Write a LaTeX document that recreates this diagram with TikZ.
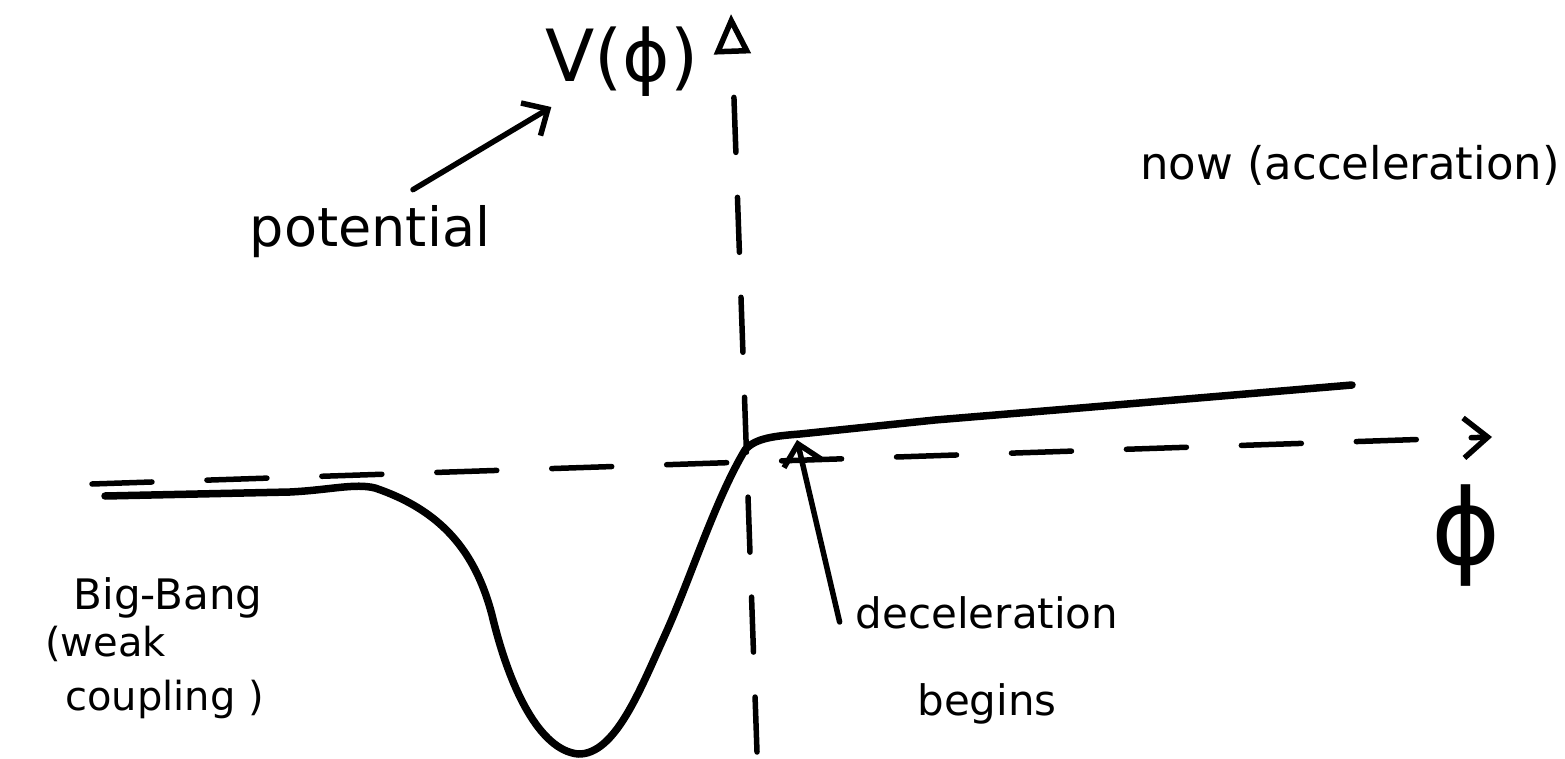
\documentclass[tikz,border=0pt]{standalone}
\usepackage{fontspec}
\setmainfont{DejaVu Sans}
\usetikzlibrary{arrows.meta}

\begin{document}
\begin{tikzpicture}[x=1pt,y=-1pt,
  curve/.style={line width=7.5pt,line cap=round,line join=round},
  axis/.style={line width=5.5pt,line cap=round},
  pointer/.style={line width=5.5pt,line cap=round,-{Straight Barb[length=20pt,width=38pt]}},
  hand/.style={inner sep=0pt,font=\fontsize{#1}{#1}\selectfont}]
\useasboundingbox (0,0) rectangle (1565,759);
\node[hand=72] (vlabel) at (622,62) {V(ϕ)};
\node[hand=54] (potential) at (370,232) {potential};
\node[hand=45,anchor=west] (now) at (1140,165) {now (acceleration)};
\node[hand=42] (bigbang) at (168,598) {Big-Bang};
\node[hand=40,align=left,anchor=north west] (weak) at (45,626) {(weak\\[14pt]\hspace*{0.5em}coupling )};
\node[hand=42,align=center] (decel) at (987,660) {deceleration\\[45pt]begins};
\node[hand=105] (phi) at (1466,536) {ϕ};
\coordinate (kink) at (797,440);
\draw[axis,dash pattern=on 55pt off 45pt,-{Triangle[open,length=40pt,width=36pt]}] (757,752) -- (731,14);
\draw[axis,dash pattern=on 60pt off 55pt,-{Straight Barb[length=24pt,width=40pt]}] (92,484) -- (1492,437);
\draw[curve] (105,496) -- (290,492) .. controls (330,490) and (355,483) .. (375,488)
  .. controls (440,510) and (475,550) .. (492,615) .. controls (510,690) and (540,750) .. (578,754)
  .. controls (615,755) and (640,690) .. (665,635) .. controls (690,580) and (715,500) .. (745,450)
  .. controls (755,438) and (775,436) .. (800,434) -- (935,420) -- (1080,408) -- (1352,385);
\draw[pointer] ([shift={(43pt,16pt)}]potential.north) -- ([shift={(6pt,-10pt)}]vlabel.south west);
\draw[pointer] ([shift={(-16pt,-26pt)}]decel.north west) -- (kink);
\end{tikzpicture}
\end{document}
